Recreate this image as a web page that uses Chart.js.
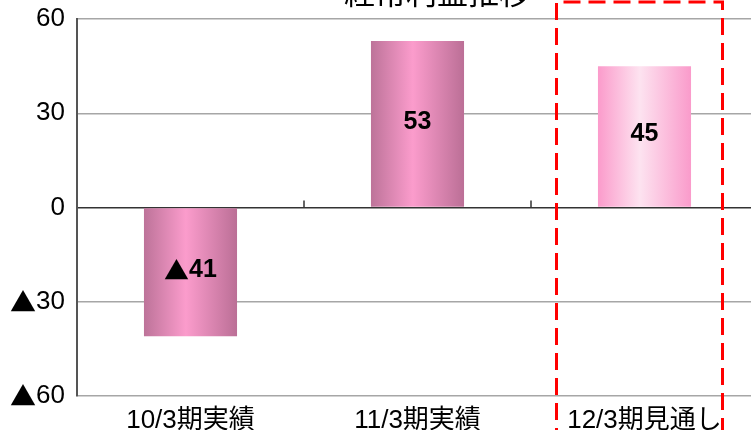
<!DOCTYPE html>
<html lang="ja">
<head>
<meta charset="utf-8">
<title>経常利益推移</title>
<script src="https://cdn.jsdelivr.net/npm/chart.js@4"></script>
<style>
  html, body { margin: 0; padding: 0; background: #fff; overflow: hidden; }
</style>
</head>
<body>
<canvas id="mycanvas" width="760" height="430"></canvas>
<script>
// データ
const titleText = "経常利益推移";
const labels = ["10/3期実績", "11/3期実績", "12/3期見通し"];
const values = [-41, 53, 45];
const yTicks = [-60, -30, 0, 30, 60];

const FONT = "'Liberation Sans', Arial, sans-serif";
const CJK = "'Noto Sans CJK JP', sans-serif";
const MARK = "▲"; // マイナス記号

// グラデーション（棒ごと）
const gradStops = [
  [[0, "#bd7399"], [0.45, "#fb9ccc"], [1, "#bb6f96"]],
  [[0, "#bd7399"], [0.45, "#fb9ccc"], [1, "#bb6f96"]],
  [[0, "#fb9bcb"], [0.45, "#fde3f0"], [1, "#fa9bcb"]]
];

function barFill(context) {
  const el = context.element;
  const i = context.dataIndex;
  if (!el || el.width == null || isNaN(el.x)) return gradStops[i][1][1];
  const g = context.chart.ctx.createLinearGradient(el.x - el.width / 2, 0, el.x + el.width / 2, 0);
  gradStops[i].forEach(s => g.addColorStop(s[0], s[1]));
  return g;
}

const barGradient = {
  id: "barGradient",
  beforeDatasetsDraw(chart) {
    const ctx = chart.ctx;
    chart.getDatasetMeta(0).data.forEach((el, i) => {
      const g = ctx.createLinearGradient(el.x - el.width / 2, 0, el.x + el.width / 2, 0);
      gradStops[i].forEach(s => g.addColorStop(s[0], s[1]));
      el.options = Object.assign({}, el.options, { backgroundColor: g });
    });
  }
};

// ▲は和文フォントで、数字は欧文フォントで描く
function drawSigned(ctx, v, x, y, align, bold, size) {
  const num = String(Math.abs(v));
  const w = bold ? "bold " : "";
  ctx.font = w + size + "px " + FONT;
  const nw = ctx.measureText(num).width;
  let mw = 0;
  if (v < 0) { ctx.font = w + size + "px " + CJK; mw = ctx.measureText(MARK).width; }
  const total = nw + mw;
  const left = align === "right" ? x - total : x - total / 2;
  ctx.textAlign = "left";
  ctx.textBaseline = "middle";
  if (v < 0) { ctx.font = w + size + "px " + CJK; ctx.fillText(MARK, left, y); }
  ctx.font = w + size + "px " + FONT;
  ctx.fillText(num, left + mw, y);
}

const extras = {
  id: "extras",
  afterDatasetsDraw(chart) {
    const ctx = chart.ctx;
    const xs = chart.scales.x, ys = chart.scales.y;
    const y0 = ys.getPixelForValue(0);
    ctx.save();
    // 0ライン上の区切り目盛
    ctx.strokeStyle = "#333";
    ctx.lineWidth = 1.5;
    for (let i = 1; i < labels.length; i++) {
      const bx = (xs.getPixelForValue(i - 1) + xs.getPixelForValue(i)) / 2;
      ctx.beginPath(); ctx.moveTo(bx, y0 - 7); ctx.lineTo(bx, y0); ctx.stroke();
    }
    // Y軸目盛ラベル
    ctx.fillStyle = "#000";
    yTicks.forEach(v => drawSigned(ctx, v, ys.right - 12, ys.getPixelForValue(v), "right", false, 26));
    // データラベル
    chart.getDatasetMeta(0).data.forEach((el, i) => {
      drawSigned(ctx, values[i], el.x, (el.y + el.base) / 2 - 2, "center", true, 25);
    });
    // 見通しの赤い点線枠
    const c = xs.getPixelForValue(2);
    ctx.strokeStyle = "#ff0000";
    ctx.lineWidth = 3;
    ctx.setLineDash([17, 8]);
    ctx.beginPath();
    ctx.moveTo(c - 88, 445);
    ctx.lineTo(c - 88, 2);
    ctx.lineTo(c + 78, 2);
    ctx.lineTo(c + 78, 445);
    ctx.stroke();
    ctx.setLineDash([]);
    // タイトル（上が切れている）
    ctx.font = "31px " + CJK;
    ctx.textAlign = "center";
    ctx.textBaseline = "alphabetic";
    ctx.fillText(titleText, 437, 4);
    ctx.restore();
  }
};

new Chart(document.getElementById("mycanvas"), {
  type: "bar",
  data: {
    labels: labels,
    datasets: [{
      data: values,
      backgroundColor: barFill,
      borderWidth: 0,
      categoryPercentage: 1,
      barPercentage: 0.41
    }]
  },
  options: {
    responsive: false,
    animation: false,
    layout: { padding: { top: 19, right: 2, left: 0, bottom: 0 } },
    plugins: { legend: { display: false }, tooltip: { enabled: false } },
    scales: {
      x: {
        grid: { display: false },
        border: { display: false },
        ticks: { color: "#000", font: { size: 26, family: FONT + ", " + CJK }, padding: 1 },
        afterFit(s) { s.height = 34; s.paddingLeft = 0; s.paddingRight = 0; }
      },
      y: {
        min: -60, max: 60,
        afterBuildTicks(s) { s.ticks = yTicks.map(v => ({ value: v })); },
        grid: {
          drawTicks: false,
          lineWidth: 1.5,
          color: c => c.tick && c.tick.value === 0 ? "#333" : "#a6a6a6"
        },
        border: { color: "#555", width: 2 },
        ticks: { display: false },
        afterFit(s) { s.width = 77; s.paddingTop = 0; s.paddingBottom = 0; }
      }
    }
  },
  plugins: [barGradient, extras]
});
</script>
</body>
</html>
